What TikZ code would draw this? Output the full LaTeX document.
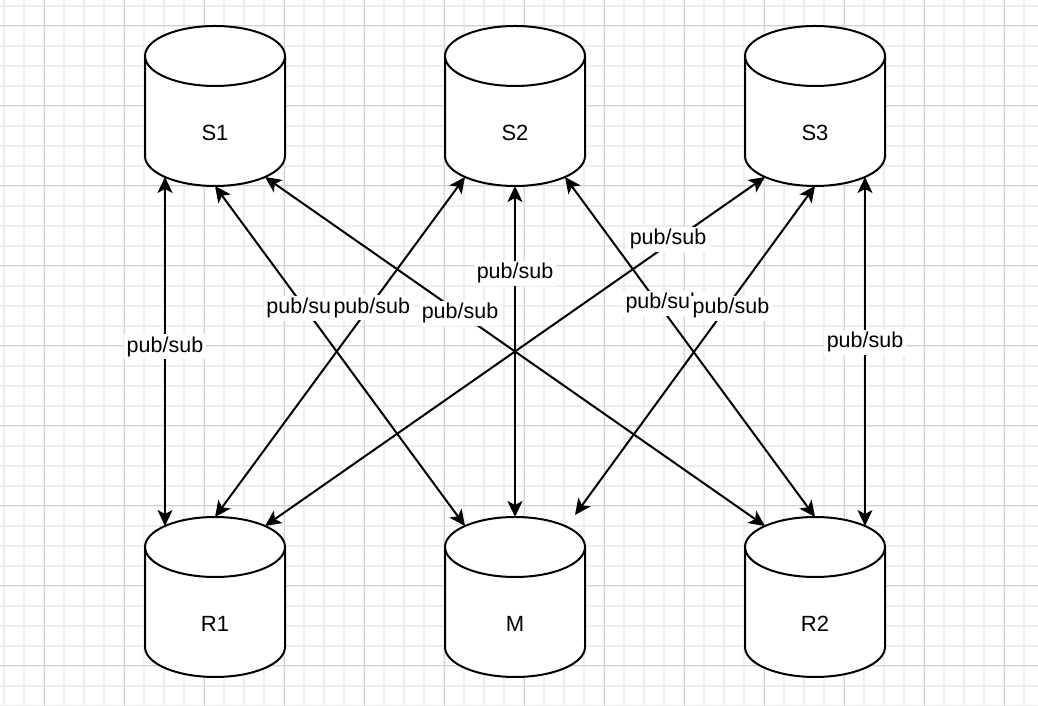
\documentclass[tikz,border=0pt]{standalone}
\usepackage{fontspec}
\setmainfont{Liberation Sans}
\usetikzlibrary{arrows.meta}
\definecolor{minorgrid}{RGB}{238,238,238}
\definecolor{majorgrid}{RGB}{210,210,210}
\tikzset{
  gridminor/.style={draw=minorgrid, line width=1.5pt},
  gridmajor/.style={draw=majorgrid, line width=1pt},
  cylline/.style={draw=black, line width=2pt},
  cyltext/.style={font=\fontsize{22}{26}\selectfont, inner sep=0pt},
  link/.style={line width=2pt, {Stealth[length=16pt,width=15pt,inset=4pt]}-{Stealth[length=16pt,width=15pt,inset=4pt]}},
  lbl/.style={fill=white, inner sep=2.5pt, font=\fontsize{21.5}{25}\selectfont},
  pics/dbcyl/.style={code={
    \fill[white] (-70,50) arc[start angle=180,end angle=0,x radius=70,y radius=30] -- (70,-50) arc[start angle=0,end angle=-180,x radius=70,y radius=30] -- cycle;
    \draw[cylline] (-70,50) arc[start angle=180,end angle=0,x radius=70,y radius=30] -- (70,-50) arc[start angle=0,end angle=-180,x radius=70,y radius=30] -- cycle;
    \draw[cylline] (-70,50) arc[start angle=180,end angle=360,x radius=70,y radius=30];
    \coordinate (-bl) at (-50,-71);
    \coordinate (-bc) at (0,-80);
    \coordinate (-br) at (50,-71);
    \coordinate (-tl) at (-50,71);
    \coordinate (-tc) at (0,80);
    \coordinate (-tr) at (50,71);
    \node[cyltext] (-text) at (0,-27) {#1};
  }}
}
\begin{document}
\begin{tikzpicture}[x=1pt,y=1pt]
\useasboundingbox (0,0) rectangle (1038,706);
\fill[white] (0,0) rectangle (1038,706);
% grid
\begin{scope}
\clip (0,0) rectangle (1038,706);
\foreach \i in {0,...,51} \draw[gridminor] ({4+20*\i},0) -- ({4+20*\i},706);
\foreach \j in {0,...,35} \draw[gridminor] (0,{20*\j}) -- (1038,{20*\j});
\foreach \i in {0,...,12} \draw[gridmajor] ({44+80*\i},0) -- ({44+80*\i},706);
\foreach \j in {0,...,8} \draw[gridmajor] (0,{40+80*\j}) -- (1038,{40+80*\j});
\end{scope}
% cylinders
\pic (S1) at (215,600) {dbcyl=S1};
\pic (S2) at (515,600) {dbcyl=S2};
\pic (S3) at (815,600) {dbcyl=S3};
\pic (R1) at (215,109) {dbcyl=R1};
\pic (M)  at (515,109) {dbcyl=M};
\pic (R2) at (815,109) {dbcyl=R2};
\coordinate (Mfree) at (575,191);
% connectors
\draw[link] (S1-bl) -- node[lbl,pos=0.487] (L1) {pub/sub} (R1-tl);
\draw[link] (S1-bc) -- node[lbl,pos=0.359] (L2) {pub/sub} (M-tl);
\draw[link] (S1-br) -- node[lbl,pos=0.39] (L3) {pub/sub} (R2-tl);
\draw[link] (S2-bl) -- node[lbl,pos=0.385,xshift=3pt] (L4) {pub/sub} (R1-tc);
\draw[link] (S2-bc) -- node[lbl,pos=0.263] (L5) {pub/sub} (M-tc);
\draw[link] (S2-br) -- node[lbl,pos=0.371,xshift=6pt] (L6) {pub/sub} (R2-tc);
\draw[link] (S3-bl) -- node[lbl,pos=0.178,xshift=-8pt] (L7) {pub/sub} (R1-tr);
\draw[link] (S3-bc) -- node[lbl,pos=0.371,xshift=5pt] (L8) {pub/sub} (Mfree);
\draw[link] (S3-br) -- node[lbl,pos=0.473] (L9) {pub/sub} (R2-tr);
\end{tikzpicture}
\end{document}
